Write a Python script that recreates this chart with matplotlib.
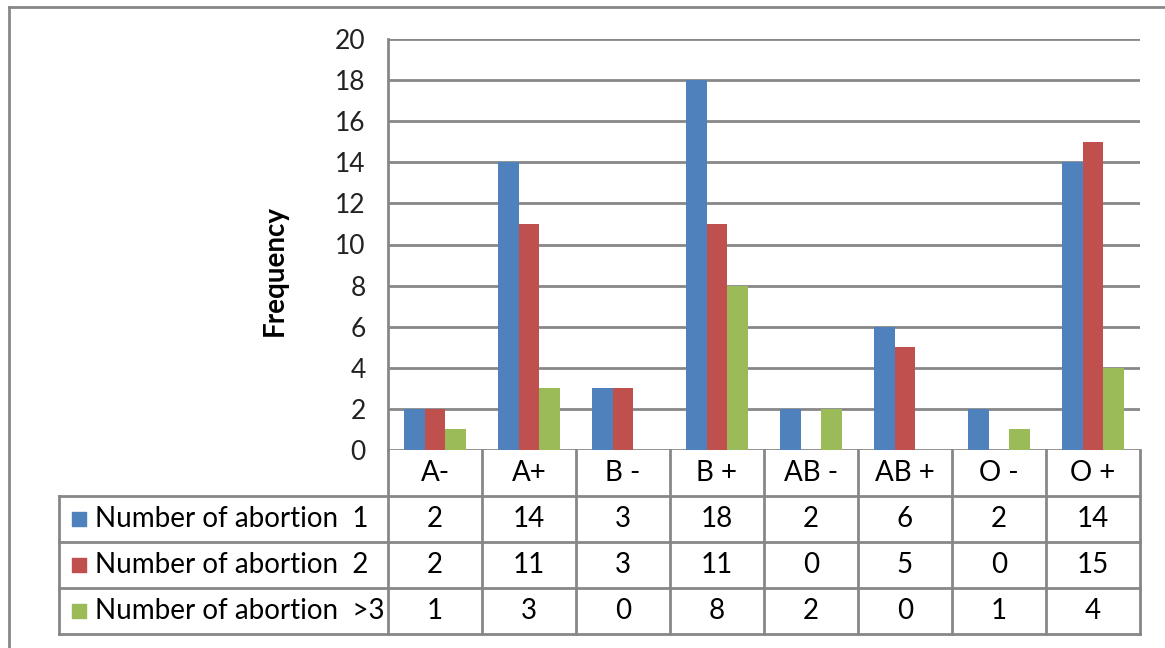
import matplotlib.pyplot as plt
import numpy as np

plt.rcParams['font.family'] = ['Lato', 'DejaVu Sans']

groups = ['A-', 'A+', 'B -', 'B +', 'AB -', 'AB +', 'O -', 'O +']
series = ['Number of abortion  1', 'Number of abortion  2', 'Number of abortion  >3']
ab1 = [2, 14, 3, 18, 2, 6, 2, 14]
ab2 = [2, 11, 3, 11, 0, 5, 0, 15]
ab3 = [1, 3, 0, 8, 2, 0, 1, 4]
colors = ['#4F81BD', '#C0504D', '#9BBB59']
grey = '#878787'
fs = 20

W, H = 1165, 648
fig = plt.figure(figsize=(W / 100, H / 100), dpi=100)


def box(x0, y0, x1, y1):
    # pixel box (top-left origin) -> figure fraction rect
    return [x0 / W, 1 - y1 / H, (x1 - x0) / W, (y1 - y0) / H]


# outer frame
fig.add_artist(plt.Line2D([9 / W, 9 / W], [0, 1 - 7 / H], color=grey, lw=2))
fig.add_artist(plt.Line2D([9 / W, 1], [1 - 7 / H, 1 - 7 / H], color=grey, lw=2))

ax = fig.add_axes(box(388, 39, 1140, 450))
x = np.arange(len(groups))
bw = 0.223
for i, vals in enumerate([ab1, ab2, ab3]):
    ax.bar(x + (i - 1) * bw, vals, bw, color=colors[i], zorder=3)
ax.set_xlim(-0.5, len(groups) - 0.5)
ax.set_ylim(0, 20)
ax.set_yticks(range(0, 21, 2))
ax.yaxis.grid(True, color=grey, lw=2)
ax.set_xticks([])
for s in ['top', 'right', 'bottom']:
    ax.spines[s].set_visible(False)
ax.spines['left'].set_color(grey)
ax.spines['left'].set_linewidth(2)
ax.tick_params(axis='y', length=0, labelsize=fs - 1, pad=16, labelcolor='#222222')
fig.text(275 / W, 1 - 270 / H, 'Frequency', rotation=90, ha='center', va='center',
         fontsize=fs, fontweight='bold')

# data table
tx = fig.add_axes(box(59, 450, 1140, 634))
tx.set_xlim(-4.0, len(groups) - 0.5)
tx.set_ylim(4, 0)
tx.axis('off')
kw = dict(color=grey, lw=2, clip_on=False)
for r in range(1, 5):
    tx.plot([-4.0, len(groups) - 0.5], [r, r], **kw)
tx.plot([-4.0, -4.0], [1, 4], **kw)
for k in range(len(groups) + 1):
    tx.plot([k - 0.5, k - 0.5], [0, 4], **kw)
for j, g in enumerate(groups):
    tx.text(j, 0.5, g, ha='center', va='center', fontsize=fs)
for i, vals in enumerate([ab1, ab2, ab3]):
    for j, v in enumerate(vals):
        tx.text(j, i + 1.5, str(v), ha='center', va='center', fontsize=fs)
    tx.scatter([-3.787], [i + 1.5], marker='s', s=110, color=colors[i], clip_on=False)
    tx.text(-3.62, i + 1.5, series[i], ha='left', va='center', fontsize=fs)

fig.savefig('out.png', dpi=100)
